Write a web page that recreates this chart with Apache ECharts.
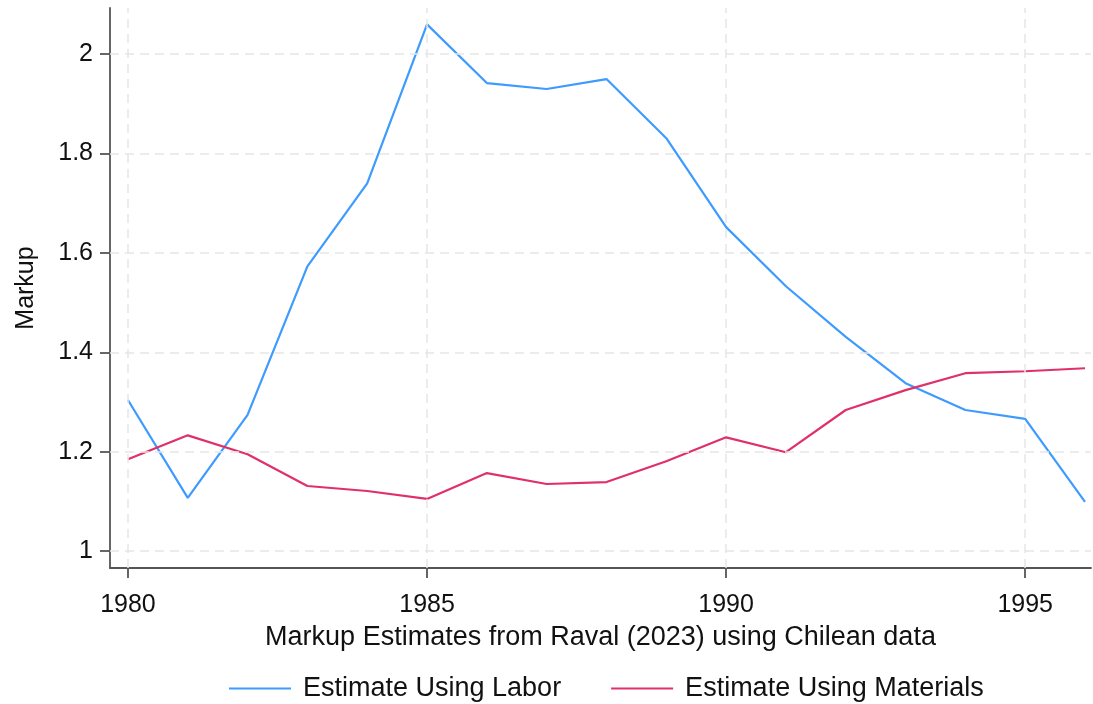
<!DOCTYPE html>
<html><head><meta charset="utf-8">
<script src="https://cdn.jsdelivr.net/npm/echarts@6/dist/echarts.min.js"></script>
<style>html,body{margin:0;padding:0;background:#fff}#c{width:1093px;height:704px}</style>
</head><body><div id="c"></div>
<script>
const years = [1980,1981,1982,1983,1984,1985,1986,1987,1988,1989,1990,1991,1992,1993,1994,1995,1996];
const labor = [1.304,1.107,1.274,1.573,1.740,2.060,1.942,1.930,1.950,1.831,1.652,1.533,1.431,1.338,1.284,1.266,1.099];
const materials = [1.185,1.233,1.195,1.131,1.121,1.105,1.157,1.135,1.139,1.181,1.229,1.199,1.284,1.324,1.358,1.362,1.368];
const xTicks = [1980,1985,1990,1995];
const yTicks = [1,1.2,1.4,1.6,1.8,2];
const seriesNames = ['Estimate Using Labor','Estimate Using Materials'];
const xTitle = 'Markup Estimates from Raval (2023) using Chilean data';
const yTitle = 'Markup';

const font = 'Liberation Sans, Arial, sans-serif';
const chart = echarts.init(document.getElementById('c'));
chart.setOption({
  animation:false,
  grid:{left:110,top:8,right:2,bottom:136,containLabel:false},
  legend:{
    top:675, left:229, padding:0, itemWidth:62, itemHeight:2, itemGap:50,
    icon:'rect',
    textStyle:{fontFamily:font,fontSize:27,color:'#111',padding:[0,0,0,7]},
    data:seriesNames
  },
  xAxis:{
    type:'value', min:1979.7, max:1996.1,
    name:xTitle, nameLocation:'middle', nameGap:56,
    nameTextStyle:{fontFamily:font,fontSize:27,color:'#111'},
    axisLine:{show:true,lineStyle:{color:'#555',width:1.8}},
    axisTick:{show:true,length:10,customValues:xTicks,lineStyle:{color:'#555',width:1.8}},
    axisLabel:{customValues:xTicks,fontFamily:font,fontSize:25,color:'#111',margin:25,formatter:v=>String(Math.round(v))},
    splitLine:{show:false}
  },
  yAxis:{
    type:'value', min:0.966, max:2.093,
    name:yTitle, nameLocation:'middle', nameGap:71, nameRotate:90,
    nameTextStyle:{fontFamily:font,fontSize:25,color:'#111'},
    axisLine:{show:true,lineStyle:{color:'#555',width:1.8}},
    axisTick:{show:true,length:10,customValues:yTicks,lineStyle:{color:'#555',width:1.8}},
    axisLabel:{customValues:yTicks,fontFamily:font,fontSize:25,color:'#111',margin:17,formatter:v=>String(+v.toFixed(1))},
    splitLine:{show:false}
  },
  series:[
    {name:seriesNames[0],type:'line',symbol:'none',data:years.map((y,i)=>[y,labor[i]]),
     lineStyle:{color:'#3d9bff',width:2.2},itemStyle:{color:'#3d9bff'},z:3,
     markLine:{silent:true,symbol:'none',label:{show:false},
       lineStyle:{color:'#e6e6e6',type:[9,6],width:1.5},
       data:xTicks.map(v=>({xAxis:v})).concat(yTicks.map(v=>({yAxis:v})))}},
    {name:seriesNames[1],type:'line',symbol:'none',data:years.map((y,i)=>[y,materials[i]]),
     lineStyle:{color:'#e0306a',width:2.2},itemStyle:{color:'#e0306a'},z:4}
  ]
});
</script></body></html>
